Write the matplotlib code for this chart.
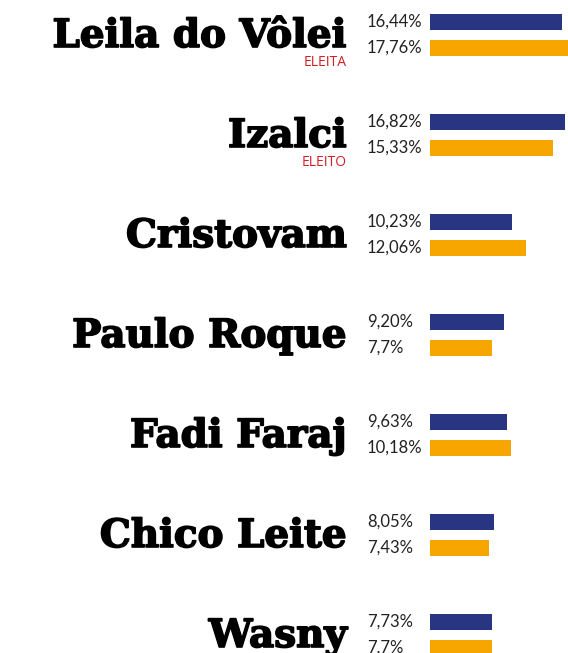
import matplotlib
matplotlib.use("Agg")
import matplotlib.pyplot as plt
import matplotlib.patheffects as pe
from matplotlib import transforms

# candidates and results (%), navy = first value, orange = second value
names = ["Leila do Vôlei", "Izalci", "Cristovam", "Paulo Roque",
         "Fadi Faraj", "Chico Leite", "Wasny"]
status = ["ELEITA", "ELEITO", "", "", "", "", ""]
navy_vals = [16.44, 16.82, 10.23, 9.20, 9.63, 8.05, 7.73]
orange_vals = [17.76, 15.33, 12.06, 7.7, 10.18, 7.43, 7.7]
navy_labels = ["16,44%", "16,82%", "10,23%", "9,20%", "9,63%", "8,05%", "7,73%"]
orange_labels = ["17,76%", "15,33%", "12,06%", "7,7%", "10,18%", "7,43%", "7,7%"]

NAVY = "#283583"
ORANGE = "#f7a600"
RED = "#d31f26"

W, H = 568, 653
fig = plt.figure(figsize=(W / 100, H / 100), dpi=100)
fig.patch.set_facecolor("white")

x0 = 430 / W
ax = fig.add_axes([x0, 0, 1 - x0, 1])
ax.set_xlim(0, 138 / 8.0)
ax.set_ylim((H - 22) / 100, -0.22)
ax.axis("off")

ys = list(range(len(names)))
ax.barh([y for y in ys], navy_vals, height=0.16, color=NAVY, align="center")
ax.barh([y + 0.26 for y in ys], orange_vals, height=0.16, color=ORANGE, align="center")

tr = transforms.blended_transform_factory(fig.transFigure, ax.transData)
for i, y in enumerate(ys):
    ax.text(347 / W, y + 0.25, names[i], transform=tr, ha="right", va="baseline",
            fontsize=28, fontweight="bold", family="DejaVu Serif", color="black",
            path_effects=[pe.withStroke(linewidth=1.2, foreground="black")],
            clip_on=False)
    if status[i]:
        ax.text(347 / W, y + 0.435, status[i], transform=tr, ha="right", va="baseline",
                fontsize=10, family="Open Sans", color=RED, clip_on=False)
    ax.text(367 / W, y, navy_labels[i], transform=tr, ha="left", va="center",
            fontsize=12, family="Lato", color="#222222", clip_on=False)
    ax.text(367 / W, y + 0.26, orange_labels[i], transform=tr, ha="left", va="center",
            fontsize=12, family="Lato", color="#222222", clip_on=False)

fig.savefig("out.png", dpi=100)
